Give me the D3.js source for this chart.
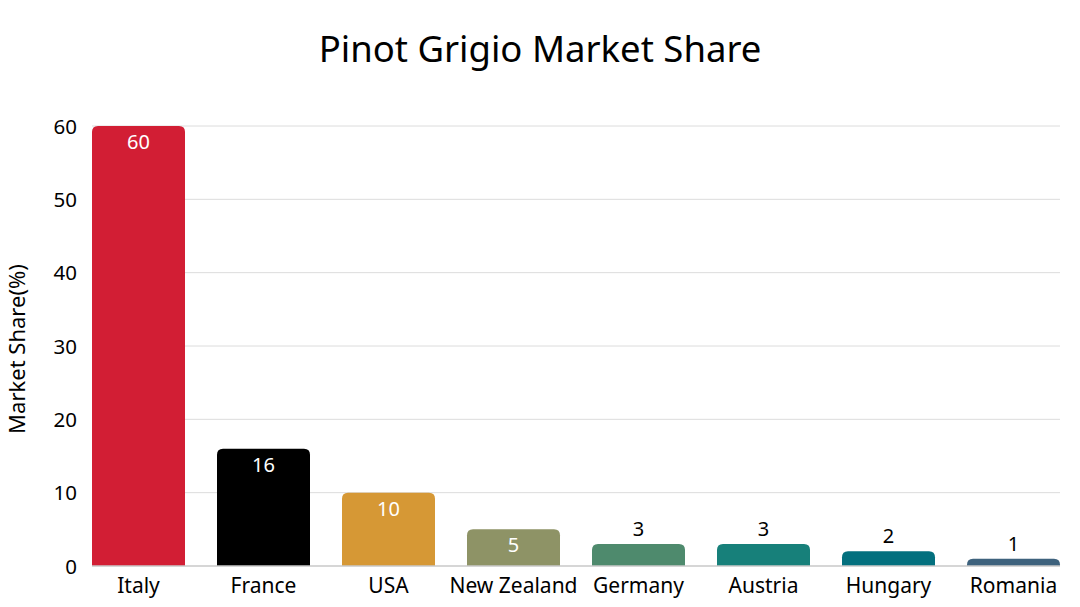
<!DOCTYPE html>
<html><head><meta charset="utf-8">
<script src="https://cdn.jsdelivr.net/npm/d3@7"></script>
<style>
html,body{margin:0;padding:0;background:#fff;}
text{font-family:"Noto Sans","Open Sans",sans-serif;}
</style></head>
<body>
<svg id="chart" width="1080" height="607"></svg>
<script>
const categories = ["Italy","France","USA","New Zealand","Germany","Austria","Hungary","Romania"];
const values = [60,16,10,5,3,3,2,1];
const colors = ["#D21E34","#000000","#D69835","#8E9366","#4E8A6D","#17807A","#03707E","#3E627D"];
const yTicks = [0,10,20,30,40,50,60];
const insideLabel = [true,true,true,true,false,false,false,false];

const svg = d3.select("#chart");
const plotLeft = 92, plotRight = 1060, plotTop = 126, plotBottom = 566;

const x = d3.scaleBand().domain(categories).range([plotLeft,plotRight]).paddingInner(0.256).paddingOuter(0);
const y = d3.scaleLinear().domain([0,60]).range([plotBottom,plotTop]);

// title
svg.append("text").attr("x",540).attr("y",62).attr("text-anchor","middle")
  .style("font-size","36.5px").attr("fill","#000").text("Pinot Grigio Market Share");

// gridlines
svg.append("g").selectAll("line").data(yTicks.filter(d=>d>0)).join("line")
  .attr("x1",plotLeft).attr("x2",plotRight).attr("y1",d=>y(d)).attr("y2",d=>y(d))
  .attr("stroke","#dcdcdc").attr("stroke-width",1);

// y axis
const yAxis = d3.axisLeft(y).tickValues(yTicks).tickSize(0).tickPadding(15);
const yg = svg.append("g").attr("transform",`translate(${plotLeft},0)`).call(yAxis);
yg.select(".domain").remove();
yg.selectAll("text").style("font-size","20.5px").attr("fill","#000").attr("dy","0.35em");

// bars with rounded top corners
const r = 6;
function barPath(d,i){
  const x0 = x(categories[i]), w = x.bandwidth(), y0 = y(d), y1 = y(0);
  const rr = Math.min(r, (y1-y0));
  return `M${x0},${y1}V${y0+rr}Q${x0},${y0} ${x0+rr},${y0}H${x0+w-rr}Q${x0+w},${y0} ${x0+w},${y0+rr}V${y1}Z`;
}
svg.append("g").selectAll("path").data(values).join("path")
  .attr("d",barPath).attr("fill",(d,i)=>colors[i]);

// baseline
svg.append("line").attr("x1",plotLeft).attr("x2",plotRight).attr("y1",y(0)).attr("y2",y(0))
  .attr("stroke","#c8c8c8").attr("stroke-width",1.5);

// x axis
const xAxis = d3.axisBottom(x).tickSize(0).tickPadding(12);
const xg = svg.append("g").attr("transform",`translate(0,${plotBottom})`).call(xAxis);
xg.select(".domain").remove();
xg.selectAll("text").style("font-size","21px").attr("fill","#000");

// value labels
svg.append("g").selectAll("text").data(values).join("text")
  .attr("x",(d,i)=>x(categories[i])+x.bandwidth()/2)
  .attr("y",(d,i)=> insideLabel[i] ? y(d)+23 : y(d)-8)
  .attr("text-anchor","middle")
  .style("font-size","20px")
  .attr("fill",(d,i)=> insideLabel[i] ? "#fff" : "#000")
  .text(d=>d);

// y axis title
svg.append("text").attr("transform","translate(25,349) rotate(-90)")
  .attr("text-anchor","middle").style("font-size","22px").attr("fill","#000")
  .text("Market Share(%)");
</script>
</body></html>
